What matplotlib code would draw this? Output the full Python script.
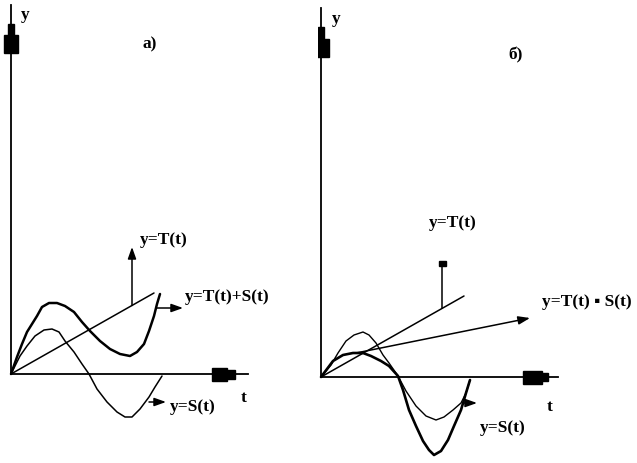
import matplotlib
matplotlib.use('Agg')
import matplotlib.pyplot as plt
import matplotlib.patches as patches

# panel a) - points measured from the origin of the axes (pixel units, y up)
a_sum_x = [0, 6, 11, 16, 21, 26, 31, 38, 46, 54, 63, 71, 79, 89, 99, 109, 119, 126, 133, 138, 143, 146, 149]
a_sum_y = [0, 17, 30, 42, 50, 58, 67, 71, 71, 68, 62, 52, 43, 33, 25, 20, 18, 22, 30, 43, 58, 70, 80]
a_s_x = [0, 9, 16, 24, 33, 41, 48, 54, 63, 71, 78, 86, 96, 106, 114, 121, 129, 138, 144, 151]
a_s_y = [0, 18, 28, 38, 44, 45, 42, 33, 22, 10, 0, -15, -28, -38, -43, -43, -35, -23, -13, -2]
a_t_end = (143, 81)

# panel б)
b_s_x = [0, 10, 17, 25, 33, 42, 48, 55, 62, 68, 77, 85, 95, 105, 115, 123, 132, 140, 145, 149]
b_s_y = [0, 12, 24, 36, 42, 45, 42, 34, 22, 14, 1, -14, -29, -39, -43, -40, -33, -26, -16, -3]
b_prod_x = [0, 12, 22, 32, 42, 50, 60, 68, 77, 82, 88, 95, 102, 108, 113, 120, 127, 133, 140, 145, 149]
b_prod_y = [0, 16, 22, 24, 24, 21, 16, 11, 1, -13, -33, -49, -64, -73, -78, -74, -63, -49, -33, -16, -3]
b_t_end = (143, 81)

FONT = dict(family=['Liberation Serif', 'DejaVu Sans'], fontweight='bold', fontsize=12.5, color='black')
LINE = dict(color='black', solid_joinstyle='round', solid_capstyle='round')


def draw_axes(ax, y_top, x_end, ybl, xbl):
    ax.plot([0, 0], [0, y_top], color='black', lw=1.3)
    ax.plot([0, x_end], [0, 0], color='black', lw=1.3)
    # blocks on the y axis
    (n0, n1, nw), (w0, w1, ww) = ybl
    ax.add_patch(patches.Rectangle((-nw, n0), 2 * nw, n1 - n0, color='black'))
    ax.add_patch(patches.Rectangle((-ww, w0), 2 * ww, w1 - w0, color='black'))
    # blocks on the t axis
    (w0, w1, wh), (n0, n1, nh) = xbl
    ax.add_patch(patches.Rectangle((w0, -wh), w1 - w0, 2 * wh, color='black'))
    ax.add_patch(patches.Rectangle((n0, -nh), n1 - n0, 2 * nh, color='black'))


def arrow(ax, start, tip):
    ax.annotate('', xy=tip, xytext=start,
                arrowprops=dict(arrowstyle='-|>,head_length=0.7,head_width=0.25',
                                color='black', lw=1.1, shrinkA=0, shrinkB=0))


fig = plt.figure(figsize=(6.37, 4.63), dpi=100)
fig.patch.set_facecolor('white')

ax_a = fig.add_axes([0, 0, 318 / 637, 1])
ax_a.set_xlim(-11, 307)
ax_a.set_ylim(-89, 374)
ax_a.axis('off')

ax_b = fig.add_axes([318 / 637, 0, 319 / 637, 1])
ax_b.set_xlim(-3, 316)
ax_b.set_ylim(-86, 377)
ax_b.axis('off')

# ---- a) ----
draw_axes(ax_a, 369, 237, ((339, 350, 3), (321, 339, 7)), ((201, 216, 6.5), (216, 224, 4.5)))
ax_a.plot([0, a_t_end[0]], [0, a_t_end[1]], lw=1.1, **LINE)
ax_a.plot(a_sum_x, a_sum_y, lw=1.8, **LINE)
ax_a.plot(a_s_x, a_s_y, lw=1.1, **LINE)
arrow(ax_a, (121, 121 * a_t_end[1] / a_t_end[0]), (121, 127))
arrow(ax_a, (146, 66), (172, 66))
arrow(ax_a, (138, -28), (155, -28))

ax_a.text(10, 359, 'y', ha='left', va='center', **FONT)
ax_a.text(139, 330, 'а)', ha='center', va='center', **FONT)
ax_a.text(129, 134, 'y=T(t)', ha='left', va='center', **FONT)
ax_a.text(174, 77, 'y=T(t)+S(t)', ha='left', va='center', **FONT)
ax_a.text(159, -33, 'y=S(t)', ha='left', va='center', **FONT)
ax_a.text(233, -24, 't', ha='center', va='center', **FONT)

# ---- б) ----
draw_axes(ax_b, 369, 237, ((338, 350, 3), (320, 338, 7.5)), ((202, 221, 6.5), (221, 227, 4)))
ax_b.plot([0, b_t_end[0]], [0, b_t_end[1]], lw=1.1, **LINE)
ax_b.plot(b_s_x, b_s_y, lw=1.0, **LINE)
ax_b.plot(b_prod_x, b_prod_y, lw=1.9, **LINE)
vx = 121
ax_b.plot([vx, vx], [vx * b_t_end[1] / b_t_end[0], 113], lw=1.1, **LINE)
ax_b.add_patch(patches.Rectangle((vx - 3.5, 111), 7, 5, color='black'))
arrow(ax_b, (35, 24), (209, 59))
arrow(ax_b, (143, -26), (156, -26))

ax_b.text(11, 358, 'y', ha='left', va='center', **FONT)
ax_b.text(195, 322, 'б)', ha='center', va='center', **FONT)
ax_b.text(108, 154, 'y=T(t)', ha='left', va='center', **FONT)
ax_b.text(221, 75, 'y=T(t) ▪ S(t)', ha='left', va='center', **FONT)
ax_b.text(159, -51, 'y=S(t)', ha='left', va='center', **FONT)
ax_b.text(229, -30, 't', ha='center', va='center', **FONT)

fig.savefig('out.png', dpi=100, facecolor='white')
